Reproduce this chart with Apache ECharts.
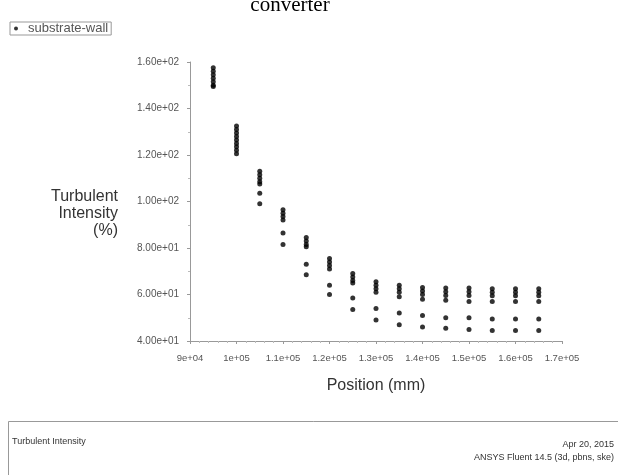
<!DOCTYPE html>
<html>
<head>
<meta charset="utf-8">
<script src="https://cdn.jsdelivr.net/npm/echarts@6/dist/echarts.min.js"></script>
<style>html,body{margin:0;padding:0;background:#fff}#c{width:618px;height:475px}</style>
</head>
<body>
<div id="c"></div>
<script>
// Positions (mm) of each column of points
const positions = [95000, 100000, 105000, 110000, 115000, 120000, 125000, 130000,
                   135000, 140000, 145000, 150000, 155000, 160000, 165000];
// Turbulent intensity (%) values at each position
const intensity95k  = [157.5, 156, 154.5, 153, 151.5, 150, 149.5];
const intensity100k = [132.5, 131, 129.5, 128, 126.5, 125, 123.5, 122, 120.5];
const intensity105k = [113, 111.5, 110, 108.5, 107.5, 103.5, 99];
const intensity110k = [96.5, 95, 93.5, 92, 86.5, 81.5];
const intensity115k = [84.5, 83, 81.5, 80.5, 73, 68.5];
const intensity120k = [75.5, 74, 72.5, 71, 64, 60];
const intensity125k = [69, 67.5, 66, 65, 58.5, 53.5];
const intensity130k = [65.5, 64, 62.5, 61, 54, 49];
const intensity135k = [64, 62.5, 61, 59, 52, 47];
const intensity140k = [63, 61.5, 60, 58, 51, 46];
const intensity145k = [62.8, 61.2, 59.6, 57.5, 50, 45.5];
const intensity150k = [62.8, 61.2, 59.6, 57, 50, 45];
const intensity155k = [62.5, 61, 59.5, 57, 49.5, 44.5];
const intensity160k = [62.5, 61, 59.5, 57, 49.5, 44.5];
const intensity165k = [62.5, 61, 59.5, 57, 49.5, 44.5];
const intensities = [intensity95k, intensity100k, intensity105k, intensity110k, intensity115k,
  intensity120k, intensity125k, intensity130k, intensity135k, intensity140k, intensity145k,
  intensity150k, intensity155k, intensity160k, intensity165k];

const seriesName = 'substrate-wall';
const yTitle = 'Turbulent\nIntensity\n(%)';
const xTitle = 'Position (mm)';
const footerLeft = 'Turbulent Intensity';
const footerDate = 'Apr 20, 2015';
const footerApp = 'ANSYS Fluent 14.5 (3d, pbns, ske)';
const topText = 'converter';

const data = [];
positions.forEach((p, i) => intensities[i].forEach(v => data.push([p, v])));

function sci(v, digits) {
  let s = digits == null ? Number(v).toExponential() : Number(v).toExponential(digits);
  return s.replace(/e([+-])(\d)$/, 'e$10$2');
}

const chart = echarts.init(document.getElementById('c'), null, {renderer: 'canvas'});
const font = 'Liberation Sans, Arial, sans-serif';
chart.setOption({
  backgroundColor: '#fff',
  animation: false,
  legend: {
    left: 10, top: 22, orient: 'horizontal',
    data: [{name: seriesName, icon: 'circle'}],
    itemWidth: 14, itemHeight: 4, itemGap: 4,
    borderColor: '#999', borderWidth: 1, padding: [0, 3, 0, 4],
    textStyle: {fontSize: 13, lineHeight: 13, color: '#555', fontFamily: font}
  },
  grid: {left: 190, right: 56, top: 62, bottom: 134},
  xAxis: {
    type: 'value', min: 90000, max: 170000, interval: 10000,
    axisLine: {lineStyle: {color: '#999'}},
    axisTick: {show: true, length: 3, lineStyle: {color: '#999'}},
    minorTick: {show: true, splitNumber: 5, length: 2, lineStyle: {color: '#bbb'}},
    splitLine: {show: false},
    axisLabel: {fontSize: 9.5, color: '#555', fontFamily: font, margin: 12,
      formatter: v => sci(v)},
    name: xTitle, nameLocation: 'middle', nameGap: 37,
    nameTextStyle: {fontSize: 16, color: '#333', fontFamily: font}
  },
  yAxis: {
    type: 'value', min: 40, max: 160, interval: 20,
    axisLine: {show: true, lineStyle: {color: '#999'}},
    axisTick: {show: true, length: 3, lineStyle: {color: '#999'}},
    minorTick: {show: true, splitNumber: 2, length: 2, lineStyle: {color: '#bbb'}},
    splitLine: {show: false},
    axisLabel: {fontSize: 10, color: '#555', fontFamily: font, margin: 11,
      formatter: v => sci(v, 2)}
  },
  graphic: [
    {type: 'text', x: 290, y: 16, z: 10,
      style: {text: topText, fill: '#000', font: '21px "Liberation Serif", serif',
        align: 'center', verticalAlign: 'bottom'}},
    {type: 'text', x: 118, y: 188,
      style: {text: yTitle, fill: '#333', font: '16px ' + font, align: 'right', lineHeight: 17}},
    {type: 'rect', shape: {x: 8.5, y: 421.5, width: 620, height: 60},
      style: {fill: 'none', stroke: '#999', lineWidth: 1}},
    {type: 'text', x: 12, y: 437,
      style: {text: footerLeft, fill: '#333', font: '9px ' + font}},
    {type: 'text', x: 614, y: 440,
      style: {text: footerDate, fill: '#333', font: '9px ' + font, align: 'right'}},
    {type: 'text', x: 614, y: 453,
      style: {text: footerApp, fill: '#333', font: '9px ' + font, align: 'right'}}
  ],
  series: [{
    name: seriesName, type: 'scatter', data: data,
    symbol: 'circle', symbolSize: 5,
    itemStyle: {color: '#000'}
  }]
});
</script>
</body>
</html>
